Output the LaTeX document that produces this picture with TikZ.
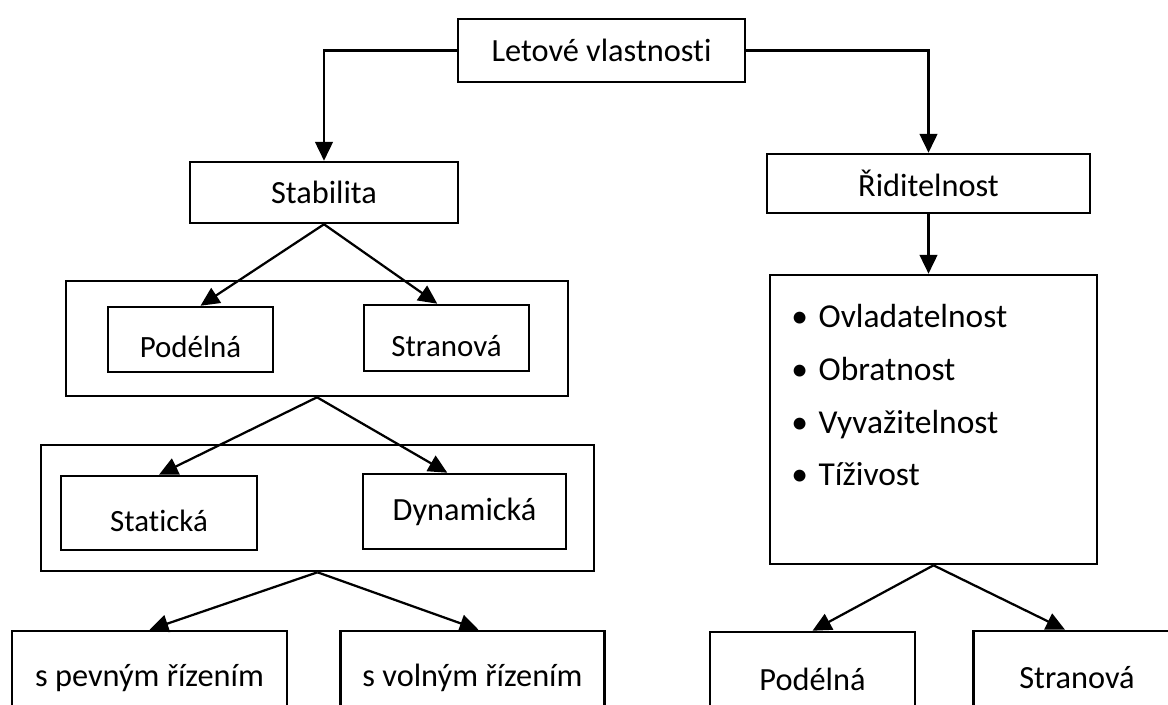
\documentclass[tikz,border=0pt]{standalone}
\usepackage{fontspec}
\setmainfont{Carlito}[Ligatures=NoCommon]
\usetikzlibrary{arrows.meta}

\begin{document}
\begin{tikzpicture}[x=0.025cm, y=-0.025cm,
    box/.style={draw, line width=1.8pt, inner sep=0pt, font=\fontsize{23}{27}\selectfont},
    small/.style={font=\fontsize{22}{26}\selectfont, text height=0.95cm, text depth=0.05cm},
    item/.style={anchor=base west, inner sep=0pt, font=\fontsize{23.8}{28}\selectfont},
    link/.style={line width=1.6pt, -{Triangle[length=0.47cm, width=0.44cm]}}]
        % --- Page ---
        \useasboundingbox (0,0) rectangle (1168,704);
        % --- Top level ---
        \node[box, minimum width=7.175cm, minimum height=1.575cm] (let) at (601.5,50.5) {Letové vlastnosti};
        \node[box, minimum width=6.7cm, minimum height=1.525cm] (stab) at (324,192.5) {Stabilita};
        \node[box, minimum width=8.075cm, minimum height=1.475cm] (rid) at (928.5,183.5) {Řiditelnost};
        % --- Stability branch ---
        \node[box, minimum width=12.55cm, minimum height=2.875cm] (grp1) at (317,338.5) {};
        \node[box, small, minimum width=4.125cm, minimum height=1.625cm] (podl) at (190.5,339.5) {Podélná};
        \node[box, small, minimum width=4.125cm, minimum height=1.65cm] (stran) at (446.5,338) {Stranová};
        \node[box, minimum width=13.825cm, minimum height=3.15cm] (grp2) at (317.5,508) {};
        \node[box, small, minimum width=4.9cm, minimum height=1.85cm] (stat) at (159,513) {Statická};
        \node[box, minimum width=5.075cm, minimum height=1.875cm] (dyn) at (464.5,511.5) {Dynamická};
        \node[box, minimum width=6.875cm, minimum height=2.35cm] (pev) at (149.5,678) {s pevným řízením};
        \node[box, minimum width=6.6cm, minimum height=2.35cm] (vol) at (472.5,678) {s volným řízením};
        % --- Control branch ---
        \node[box, minimum width=8.175cm, minimum height=7.225cm] (list) at (933.5,419.5) {};
        \foreach \name [count=\i] in {Ovladatelnost, Obratnost, Vyvažitelnost, Tíživost} {
            \node[item] (item\i) at (791, 275+\i*52.7) {\textbullet\hspace{0.32em}\name};
        }
        \node[box, minimum width=5.125cm, minimum height=2.35cm] (podlR) at (812.5,679) {Podélná};
        \node[box, minimum width=5.175cm, minimum height=2.35cm] (stranR) at (1077,678) {Stranová};

        % --- Connectors ---
        \draw[link] (let.west) -| (stab.north);
        \draw[link] (let.east) -| (rid.north);
        \draw[link] (stab.south) -- ([xshift=0.25cm]podl.north);
        \draw[link] (stab.south) -- ([xshift=-0.23cm]stran.north);
        \draw[link] (grp1.south) -- (stat.north);
        \draw[link] (grp1.south) -- ([xshift=-0.43cm]dyn.north);
        \draw[link] (grp2.south) -- (pev.north);
        \draw[link] (grp2.south) -- ([xshift=0.15cm]vol.north);
        \draw[link] (rid.south) -- (rid.south |- list.north);
        \draw[link] (list.south) -- (podlR.north);
        \draw[link] (list.south) -- ([xshift=-0.3cm]stranR.north);
\end{tikzpicture}
\end{document}
